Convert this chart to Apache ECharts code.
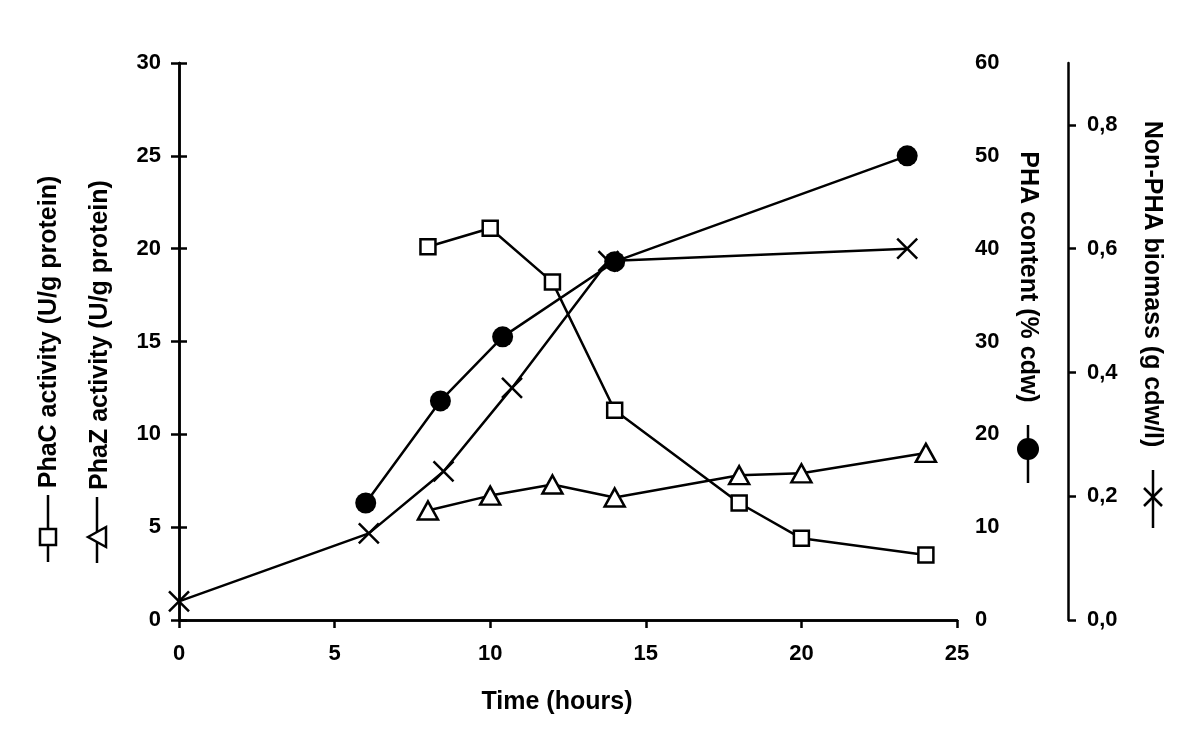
<!DOCTYPE html>
<html>
<head>
<meta charset="utf-8">
<script src="https://cdn.jsdelivr.net/npm/echarts@6/dist/echarts.min.js"></script>
<style>
html,body{margin:0;padding:0;background:#fff;}
#c{width:1200px;height:754px;}
</style>
</head>
<body>
<div id="c"></div>
<script>
// ---- data ----
const phacTime = [8, 10, 12, 14, 18, 20, 24];
const phacValues = [20.1, 21.1, 18.2, 11.3, 6.3, 4.4, 3.5];

const phazTime = [8, 10, 12, 14, 18, 20, 24];
const phazValues = [5.9, 6.7, 7.3, 6.6, 7.8, 7.9, 9.0];

const phaTime = [6, 8.4, 10.4, 14, 23.4];
const phaValues = [12.6, 23.6, 30.5, 38.6, 50.0];

const biomassTime = [0, 6.1, 8.5, 10.7, 13.8, 23.4];
const biomassValues = [0.03, 0.14, 0.24, 0.375, 0.58, 0.60];

const biomassTicks = [0, 0.2, 0.4, 0.6, 0.8];

const titles = {
  x: 'Time (hours)',
  phac: 'PhaC activity (U/g protein)',
  phaz: 'PhaZ activity (U/g protein)',
  pha: 'PHA content (% cdw)',
  biomass: 'Non-PHA biomass (g cdw/l)'
};

const pairs = (t, v) => t.map((x, i) => [x, v[i]]);

const FONT = '"Liberation Sans", Arial, Helvetica, sans-serif';
const BLACK = '#000';
const LW = 2.5;

const axisLine = { show: true, lineStyle: { color: BLACK, width: LW } };
const axisTick = { show: true, inside: false, length: 8, lineStyle: { color: BLACK, width: LW } };
const labelStyle = { color: BLACK, fontSize: 22, fontWeight: 'bold', fontFamily: FONT };

const xMarkPath = 'path://M0,0L20,20M20,0L0,20';

const chart = echarts.init(document.getElementById('c'), null, { renderer: 'canvas' });

const option = {
  animation: false,
  backgroundColor: '#fff',
  grid: { left: 179, right: 243, top: 63, bottom: 134, containLabel: false },
  xAxis: [
    {
      type: 'value', position: 'bottom', min: 0, max: 25, interval: 5,
      axisLine, axisTick, splitLine: { show: false },
      axisLabel: Object.assign({ margin: 23 }, labelStyle),
      name: titles.x, nameLocation: 'middle', nameGap: 70,
      nameTextStyle: { color: BLACK, fontSize: 25, fontWeight: 'bold', fontFamily: FONT, padding: [0, 22, 0, 0] }
    },
    {
      type: 'value', position: 'top', min: 0, max: 25, interval: 5,
      axisLine, axisTick: { show: false }, axisLabel: { show: false }, splitLine: { show: false }
    }
  ],
  yAxis: [
    {
      type: 'value', position: 'left', min: 0, max: 30, interval: 5,
      axisLine, axisTick, splitLine: { show: false },
      axisLabel: Object.assign({ margin: 18 }, labelStyle)
    },
    {
      type: 'value', position: 'right', min: 0, max: 60, interval: 10,
      axisLine, axisTick, splitLine: { show: false },
      axisLabel: Object.assign({ margin: 18 }, labelStyle)
    },
    {
      type: 'value', position: 'right', offset: 111, min: 0, max: 0.9, interval: 0.2,
      axisLine,
      axisTick: Object.assign({ customValues: biomassTicks }, axisTick),
      splitLine: { show: false },
      axisLabel: Object.assign({
        margin: 19,
        customValues: biomassTicks,
        formatter: v => v.toFixed(1).replace('.', ',')
      }, labelStyle)
    }
  ],
  series: [
    {
      name: titles.biomass, type: 'line', xAxisIndex: 0, yAxisIndex: 2,
      data: pairs(biomassTime, biomassValues),
      symbol: xMarkPath, symbolSize: 20, showSymbol: true,
      lineStyle: { color: BLACK, width: LW },
      itemStyle: { color: '#fff', borderColor: BLACK, borderWidth: LW }
    },
    {
      name: titles.phac, type: 'line', xAxisIndex: 0, yAxisIndex: 0,
      data: pairs(phacTime, phacValues),
      symbol: 'rect', symbolSize: 15, showSymbol: true,
      lineStyle: { color: BLACK, width: LW },
      itemStyle: { color: '#fff', borderColor: BLACK, borderWidth: LW }
    },
    {
      name: titles.phaz, type: 'line', xAxisIndex: 0, yAxisIndex: 0,
      data: pairs(phazTime, phazValues),
      symbol: 'triangle', symbolSize: [20, 18], showSymbol: true,
      lineStyle: { color: BLACK, width: LW },
      itemStyle: { color: '#fff', borderColor: BLACK, borderWidth: LW }
    },
    {
      name: titles.pha, type: 'line', xAxisIndex: 0, yAxisIndex: 1,
      data: pairs(phaTime, phaValues),
      symbol: 'circle', symbolSize: 21, showSymbol: true,
      lineStyle: { color: BLACK, width: LW },
      itemStyle: { color: BLACK, borderColor: BLACK, borderWidth: 0 }
    }
  ],
  graphic: [
    // rotated axis titles
    { type: 'text', x: 49, y: 332, rotation: Math.PI / 2,
      style: { text: titles.phac, fill: BLACK, font: 'bold 25px ' + FONT, align: 'center', verticalAlign: 'middle' } },
    { type: 'text', x: 100, y: 335, rotation: Math.PI / 2,
      style: { text: titles.phaz, fill: BLACK, font: 'bold 25px ' + FONT, align: 'center', verticalAlign: 'middle' } },
    { type: 'text', x: 1028, y: 277, rotation: -Math.PI / 2,
      style: { text: titles.pha, fill: BLACK, font: 'bold 25px ' + FONT, align: 'center', verticalAlign: 'middle' } },
    { type: 'text', x: 1152, y: 284, rotation: -Math.PI / 2,
      style: { text: titles.biomass, fill: BLACK, font: 'bold 25px ' + FONT, align: 'center', verticalAlign: 'middle' } },
    // key symbols
    { type: 'line', shape: { x1: 48, y1: 495, x2: 48, y2: 562 }, style: { stroke: BLACK, lineWidth: LW } },
    { type: 'rect', shape: { x: 40, y: 529, width: 16, height: 16 }, style: { fill: '#fff', stroke: BLACK, lineWidth: LW } },
    { type: 'line', shape: { x1: 97, y1: 497, x2: 97, y2: 563 }, style: { stroke: BLACK, lineWidth: LW } },
    { type: 'polygon', shape: { points: [[88, 537], [106, 527], [106, 547]] }, style: { fill: '#fff', stroke: BLACK, lineWidth: LW } },
    { type: 'line', shape: { x1: 1028, y1: 425, x2: 1028, y2: 483 }, style: { stroke: BLACK, lineWidth: LW } },
    { type: 'circle', shape: { cx: 1028, cy: 449, r: 11 }, style: { fill: BLACK } },
    { type: 'line', shape: { x1: 1153, y1: 470, x2: 1153, y2: 528 }, style: { stroke: BLACK, lineWidth: LW } },
    { type: 'polyline', shape: { points: [[1144, 488], [1162, 506]] }, style: { stroke: BLACK, lineWidth: LW, fill: null } },
    { type: 'polyline', shape: { points: [[1162, 488], [1144, 506]] }, style: { stroke: BLACK, lineWidth: LW, fill: null } }
  ]
};

chart.setOption(option);
</script>
</body>
</html>
